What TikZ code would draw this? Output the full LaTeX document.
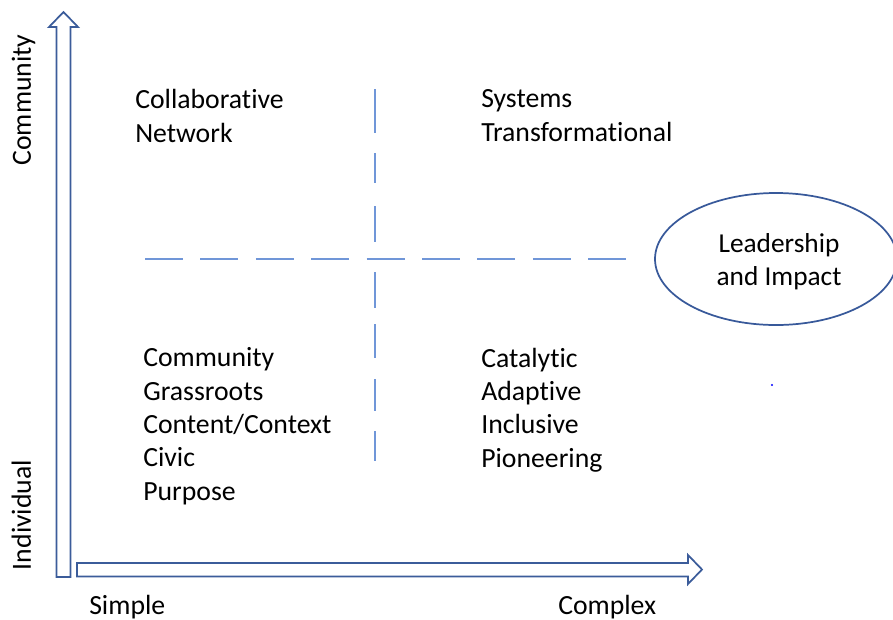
\documentclass[tikz,border=0pt]{standalone}
\usepackage{fontspec}
\setmainfont{Carlito}[Ligatures=NoCommon]
\usepackage{xcolor}
\usepackage{tikz}
\usetikzlibrary{positioning, shapes, shapes.geometric, arrows.meta, calc}

\definecolor{axisblue}{HTML}{3B5C9A}
\definecolor{dashblue}{HTML}{7096D8}
\definecolor{ringblue}{HTML}{38599A}

\begin{document}
\begin{tikzpicture}[x=0.75pt, y=-0.75pt,
    axis/.style={draw=axisblue, line width=1.3pt, fill=white, line join=miter},
    quadtext/.style={font=\fontsize{20.8}{25}\selectfont, inner sep=0pt, align=left, anchor=base west},
    axistext/.style={font=\fontsize{20.8}{25}\selectfont, inner sep=0pt},
    divider/.style={draw=dashblue, line width=1.1pt}]
    \useasboundingbox (0,0) rectangle (893,619);

    % axes
    \draw[axis] (56.5,577) -- (56.5,27) -- (49,27) -- (63.5,12) -- (78,27) -- (70.5,27) -- (70.5,577) -- cycle;
    \draw[axis] (77,563) -- (688,563) -- (688,555) -- (702,569.5) -- (688,584) -- (688,576.5) -- (77,576.5) -- cycle;

    \node[axistext, rotate=90, anchor=base] (community) at (31,100) {Community};
    \node[axistext, rotate=90, anchor=base] (individual) at (31,515) {Individual};
    \node[axistext, anchor=base west] (simple) at (89,614) {Simple};
    \node[axistext, anchor=base west] (complex) at (558,614) {Complex};

    % quadrant dividers
    \coordinate (hleft) at (145,259);
    \coordinate (hright) at (626,259);
    \coordinate (vtop) at (375,89);
    \coordinate (vbottom) at (375,461);
    \draw[divider, dash pattern=on 28.5pt off 13.05pt] (hleft) -- (hright);
    \draw[divider, dash pattern=on 33pt off 15pt on 22.5pt off 17.25pt on 27pt off 22.5pt on 27pt off 12pt on 25.5pt off 15.75pt on 24pt off 15pt on 22.5pt off 30pt] (vtop) -- (vbottom);

    % quadrants (base anchor = last line)
    \node[quadtext] (network) at (135,142) {Collaborative\\Network};
    \node[quadtext] (systems) at (481,141) {Systems\\Transformational};
    \node[quadtext] (grassroots) at (143,500) {Community\\Grassroots\\Content/Context\\Civic\\Purpose};
    \node[quadtext] (adaptive) at (481,467) {Catalytic\\Adaptive\\Inclusive\\Pioneering};

    \node[draw=ringblue, line width=1.3pt, ellipse, minimum width=181.5pt, minimum height=99pt] (impact) at (776,259) {};
    \node[font=\fontsize{20.5}{24.75}\selectfont, align=center, inner sep=0pt] (impacttext) at (779,262) {Leadership\\and Impact};

    \fill[blue] (772,385) circle (1.2);
\end{tikzpicture}
\end{document}
